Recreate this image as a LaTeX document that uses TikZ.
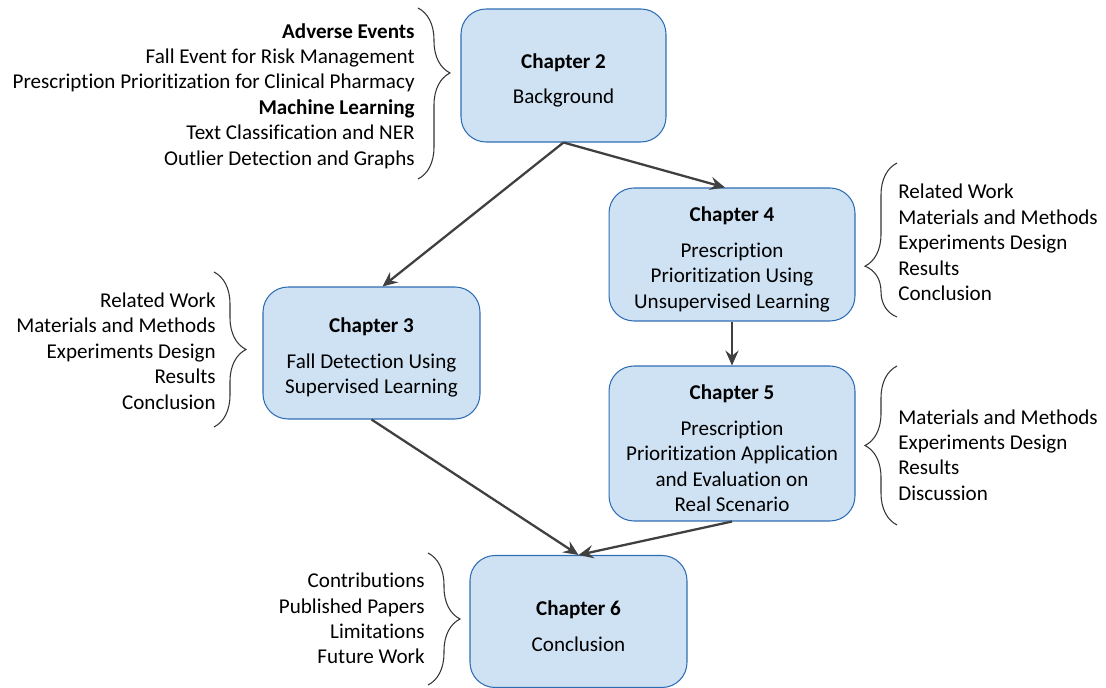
\documentclass[tikz,border=0pt]{standalone}
\usepackage{fontspec}
\setmainfont{Carlito}[Ligatures=NoCommon]
\usepackage{xcolor}
\usetikzlibrary{arrows.meta,decorations.pathreplacing}
\definecolor{boxfill}{RGB}{207,226,243}
\definecolor{boxline}{RGB}{46,109,180}
\definecolor{arrowgray}{RGB}{64,64,64}
\newcommand{\chaptitle}[1]{\rule{0pt}{14pt}\textbf{Chapter #1}\\[5.7pt]}

\begin{document}
\begin{tikzpicture}[x=0.02cm,y=-0.02cm,>={Stealth[length=8.5pt,width=7.5pt,inset=3pt]}]
    \tikzset{
        box/.style={draw=boxline, fill=boxfill, line width=0.6pt, rounded corners=0.5cm, align=center, inner sep=2pt, font=\fontsize{12}{14.5}\selectfont},
        note/.style={inner sep=0pt, font=\fontsize{12}{14.5}\selectfont},
        a/.style={->, arrowgray, line width=1.3pt},
        brc/.style={decorate, decoration={brace, amplitude=0.64cm, #1}, black!80, line width=0.6pt},
        brc/.default={aspect=0.5}
    }
        \useasboundingbox (0,0) rectangle (1106,688);

        \node[box, minimum width=4.1cm, minimum height=2.66cm] (ch2) at (563.5,75.5) {\chaptitle{2}Background};
        \node[box, minimum width=4.92cm, minimum height=2.66cm] (ch4) at (732,254.5) {\chaptitle{4}Prescription\\Prioritization Using\\Unsupervised Learning};
        \node[box, minimum width=4.34cm, minimum height=2.64cm] (ch3) at (371.5,353) {\chaptitle{3}Fall Detection Using\\Supervised Learning};
        \node[box, minimum width=4.92cm, minimum height=3.1cm] (ch5) at (732,443.5) {\chaptitle{5}Prescription\\Prioritization Application\\and Evaluation on\\Real Scenario};
        \node[box, minimum width=4.34cm, minimum height=2.64cm] (ch6) at (578.5,621.5) {\chaptitle{6}Conclusion};

        \draw [a] (ch2.south) -- ([xshift=-0.14cm]ch4.north);
        \draw [a] (ch2.south) -- ([xshift=0.22cm]ch3.north);
        \draw [a] (ch4.south) -- (ch5.north);
        \draw [a] (ch3.south) -- (ch6.north);
        \draw [a] (ch5.south) -- (ch6.north);

        \node[note, anchor=east, align=right] (n2) at (415,96) {\textbf{Adverse Events}\\Fall Event for Risk Management\\Prescription Prioritization for Clinical Pharmacy\\\textbf{Machine Learning}\\Text Classification and NER\\Outlier Detection and Graphs};
        \node[note, anchor=west, align=left] (n4) at (898,242.5) {Related Work\\Materials and Methods\\Experiments Design\\Results\\Conclusion};
        \node[note, anchor=east, align=right] (n3) at (216,351) {Related Work\\Materials and Methods\\Experiments Design\\Results\\Conclusion};
        \node[note, anchor=west, align=left] (n5) at (898,455) {Materials and Methods\\Experiments Design\\Results\\Discussion};
        \node[note, anchor=east, align=right] (n6) at (425,618.5) {Contributions\\Published Papers\\Limitations\\Future Work};

        \draw [brc={aspect=0.38}] (418,8) -- (418,179);
        \draw [brc={aspect=0.33}] (897,317) -- (897,163);
        \draw [brc] (214,272) -- (214,427);
        \draw [brc] (897,525) -- (897,366);
        \draw [brc] (428,553) -- (428,685);
    \end{tikzpicture}
\end{document}
